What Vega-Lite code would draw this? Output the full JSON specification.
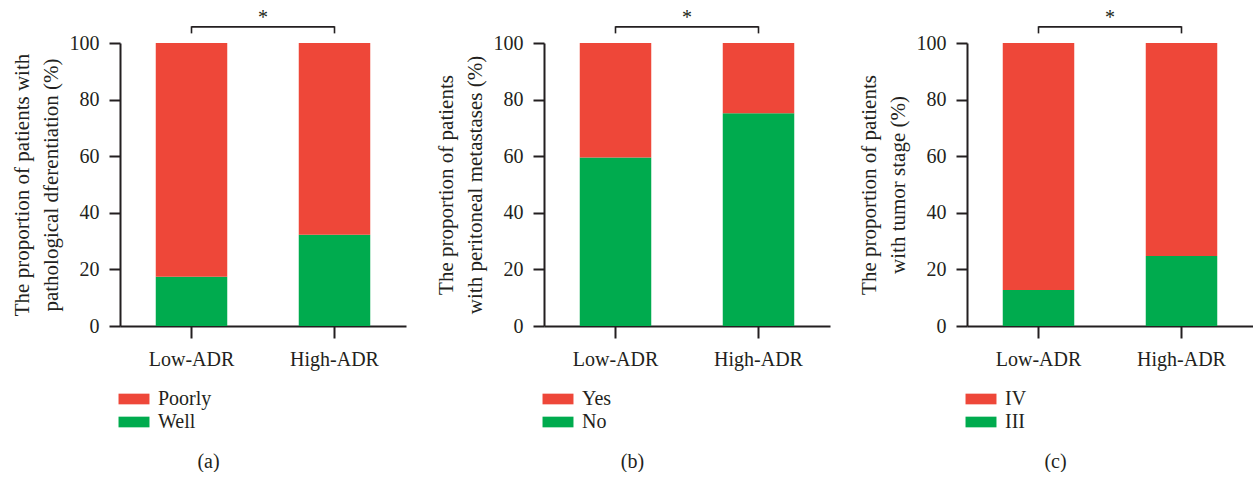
{
  "$schema": "https://vega.github.io/schema/vega-lite/v6.json",
  "autosize": {"type": "pad"},
  "padding": {"left": 10, "top": 7, "right": 0, "bottom": 0},
  "background": "white",
  "config": {
    "view": {"stroke": null},
    "concat": {"spacing": 28}
  },
  "datasets": {
    "a": [
      {"group": "Low-ADR", "category": "Well", "percent": 17.4},
      {"group": "Low-ADR", "category": "Poorly", "percent": 82.6},
      {"group": "High-ADR", "category": "Well", "percent": 32.2},
      {"group": "High-ADR", "category": "Poorly", "percent": 67.8}
    ],
    "b": [
      {"group": "Low-ADR", "category": "No", "percent": 59.5},
      {"group": "Low-ADR", "category": "Yes", "percent": 40.5},
      {"group": "High-ADR", "category": "No", "percent": 75.2},
      {"group": "High-ADR", "category": "Yes", "percent": 24.8}
    ],
    "c": [
      {"group": "Low-ADR", "category": "III", "percent": 12.7},
      {"group": "Low-ADR", "category": "IV", "percent": 87.3},
      {"group": "High-ADR", "category": "III", "percent": 24.7},
      {"group": "High-ADR", "category": "IV", "percent": 75.3}
    ],
    "sig": [
      {"from": "Low-ADR", "to": "High-ADR", "label": "*"}
    ]
  },
  "hconcat": [
    {
      "width": 286, "height": 283,
      "title": {"text": "(a)", "orient": "bottom", "frame": "bounds", "anchor": "middle", "offset": 20, "font": "Liberation Serif", "fontSize": 20, "fontWeight": "normal", "color": "#231f20"},
      "layer": [
        {
          "data": {"name": "a"},
          "mark": {"type": "bar"},
          "encoding": {
            "x": {"field": "group", "type": "nominal", "scale": {"domain": ["Low-ADR", "High-ADR"], "paddingInner": 0.5, "paddingOuter": 0.25}, "axis": {"title": null, "labelAngle": 0, "tickSize": 12, "labelPadding": 11, "domainColor": "#231f20", "domainWidth": 2, "tickColor": "#231f20", "tickWidth": 2, "labelFont": "Liberation Serif", "labelFontSize": 20, "labelColor": "#231f20", "grid": false}},
            "y": {"field": "percent", "type": "quantitative", "stack": "zero", "scale": {"domain": [0, 100], "nice": false}, "axis": {"values": [0, 20, 40, 60, 80, 100], "title": ["The proportion of patients with", "pathological dferentiation (%)"], "tickSize": 11, "labelPadding": 10, "titlePadding": 8, "titleLineHeight": 29, "domainColor": "#231f20", "domainWidth": 2, "tickColor": "#231f20", "tickWidth": 2, "labelFont": "Liberation Serif", "labelFontSize": 20, "labelColor": "#231f20", "titleFont": "Liberation Serif", "titleFontSize": 21, "titleFontWeight": "normal", "titleColor": "#231f20", "grid": false}},
            "color": {"field": "category", "type": "nominal", "scale": {"domain": ["Poorly", "Well"], "range": ["#ee4739", "#00ab4e"]}, "legend": {"title": null, "orient": "none", "legendX": 4, "legendY": 346, "symbolType": "M-2.9,-1H2.9V1H-2.9Z", "symbolSize": 114, "symbolOpacity": 1, "symbolStrokeWidth": 0, "labelFont": "Liberation Serif", "labelFontSize": 20, "labelColor": "#231f20", "rowPadding": 3, "padding": 0, "labelOffset": 14}},
            "order": {"field": "category", "sort": "descending"}
          }
        },
        {
          "data": {"name": "sig"},
          "mark": {"type": "rule", "strokeWidth": 1.6, "color": "#231f20"},
          "encoding": {"x": {"field": "from", "type": "nominal"}, "x2": {"field": "to"}, "y": {"datum": 105.7}}
        },
        {
          "data": {"name": "sig"},
          "mark": {"type": "rule", "strokeWidth": 1.6, "color": "#231f20"},
          "encoding": {"x": {"field": "from", "type": "nominal"}, "y": {"datum": 103.4}, "y2": {"datum": 105.9}}
        },
        {
          "data": {"name": "sig"},
          "mark": {"type": "rule", "strokeWidth": 1.6, "color": "#231f20"},
          "encoding": {"x": {"field": "to", "type": "nominal"}, "y": {"datum": 103.4}, "y2": {"datum": 105.9}}
        },
        {
          "data": {"name": "sig"},
          "mark": {"type": "text", "font": "Liberation Serif", "fontSize": 20, "color": "#231f20", "dx": 71.5, "baseline": "alphabetic"},
          "encoding": {"x": {"field": "from", "type": "nominal"}, "y": {"datum": 106.8}, "text": {"field": "label"}}
        }
      ]
    },
    {
      "width": 286, "height": 283,
      "title": {"text": "(b)", "orient": "bottom", "frame": "bounds", "anchor": "middle", "offset": 20, "font": "Liberation Serif", "fontSize": 20, "fontWeight": "normal", "color": "#231f20"},
      "layer": [
        {
          "data": {"name": "b"},
          "mark": {"type": "bar"},
          "encoding": {
            "x": {"field": "group", "type": "nominal", "scale": {"domain": ["Low-ADR", "High-ADR"], "paddingInner": 0.5, "paddingOuter": 0.25}, "axis": {"title": null, "labelAngle": 0, "tickSize": 12, "labelPadding": 11, "domainColor": "#231f20", "domainWidth": 2, "tickColor": "#231f20", "tickWidth": 2, "labelFont": "Liberation Serif", "labelFontSize": 20, "labelColor": "#231f20", "grid": false}},
            "y": {"field": "percent", "type": "quantitative", "stack": "zero", "scale": {"domain": [0, 100], "nice": false}, "axis": {"values": [0, 20, 40, 60, 80, 100], "title": ["The proportion of patients", "with peritoneal metastases (%)"], "tickSize": 11, "labelPadding": 10, "titlePadding": 8, "titleLineHeight": 29, "domainColor": "#231f20", "domainWidth": 2, "tickColor": "#231f20", "tickWidth": 2, "labelFont": "Liberation Serif", "labelFontSize": 20, "labelColor": "#231f20", "titleFont": "Liberation Serif", "titleFontSize": 21, "titleFontWeight": "normal", "titleColor": "#231f20", "grid": false}},
            "color": {"field": "category", "type": "nominal", "scale": {"domain": ["Yes", "No"], "range": ["#ee4739", "#00ab4e"]}, "legend": {"title": null, "orient": "none", "legendX": 4, "legendY": 346, "symbolType": "M-2.9,-1H2.9V1H-2.9Z", "symbolSize": 114, "symbolOpacity": 1, "symbolStrokeWidth": 0, "labelFont": "Liberation Serif", "labelFontSize": 20, "labelColor": "#231f20", "rowPadding": 3, "padding": 0, "labelOffset": 14}},
            "order": {"field": "category", "sort": "ascending"}
          }
        },
        {
          "data": {"name": "sig"},
          "mark": {"type": "rule", "strokeWidth": 1.6, "color": "#231f20"},
          "encoding": {"x": {"field": "from", "type": "nominal"}, "x2": {"field": "to"}, "y": {"datum": 105.7}}
        },
        {
          "data": {"name": "sig"},
          "mark": {"type": "rule", "strokeWidth": 1.6, "color": "#231f20"},
          "encoding": {"x": {"field": "from", "type": "nominal"}, "y": {"datum": 103.4}, "y2": {"datum": 105.9}}
        },
        {
          "data": {"name": "sig"},
          "mark": {"type": "rule", "strokeWidth": 1.6, "color": "#231f20"},
          "encoding": {"x": {"field": "to", "type": "nominal"}, "y": {"datum": 103.4}, "y2": {"datum": 105.9}}
        },
        {
          "data": {"name": "sig"},
          "mark": {"type": "text", "font": "Liberation Serif", "fontSize": 20, "color": "#231f20", "dx": 71.5, "baseline": "alphabetic"},
          "encoding": {"x": {"field": "from", "type": "nominal"}, "y": {"datum": 106.8}, "text": {"field": "label"}}
        }
      ]
    },
    {
      "width": 286, "height": 283,
      "title": {"text": "(c)", "orient": "bottom", "frame": "bounds", "anchor": "middle", "offset": 20, "font": "Liberation Serif", "fontSize": 20, "fontWeight": "normal", "color": "#231f20"},
      "layer": [
        {
          "data": {"name": "c"},
          "mark": {"type": "bar"},
          "encoding": {
            "x": {"field": "group", "type": "nominal", "scale": {"domain": ["Low-ADR", "High-ADR"], "paddingInner": 0.5, "paddingOuter": 0.25}, "axis": {"title": null, "labelAngle": 0, "tickSize": 12, "labelPadding": 11, "domainColor": "#231f20", "domainWidth": 2, "tickColor": "#231f20", "tickWidth": 2, "labelFont": "Liberation Serif", "labelFontSize": 20, "labelColor": "#231f20", "grid": false}},
            "y": {"field": "percent", "type": "quantitative", "stack": "zero", "scale": {"domain": [0, 100], "nice": false}, "axis": {"values": [0, 20, 40, 60, 80, 100], "title": ["The proportion of patients", "with tumor stage (%)"], "tickSize": 11, "labelPadding": 10, "titlePadding": 8, "titleLineHeight": 29, "domainColor": "#231f20", "domainWidth": 2, "tickColor": "#231f20", "tickWidth": 2, "labelFont": "Liberation Serif", "labelFontSize": 20, "labelColor": "#231f20", "titleFont": "Liberation Serif", "titleFontSize": 21, "titleFontWeight": "normal", "titleColor": "#231f20", "grid": false}},
            "color": {"field": "category", "type": "nominal", "scale": {"domain": ["IV", "III"], "range": ["#ee4739", "#00ab4e"]}, "legend": {"title": null, "orient": "none", "legendX": 4, "legendY": 346, "symbolType": "M-2.9,-1H2.9V1H-2.9Z", "symbolSize": 114, "symbolOpacity": 1, "symbolStrokeWidth": 0, "labelFont": "Liberation Serif", "labelFontSize": 20, "labelColor": "#231f20", "rowPadding": 3, "padding": 0, "labelOffset": 14}},
            "order": {"field": "category", "sort": "ascending"}
          }
        },
        {
          "data": {"name": "sig"},
          "mark": {"type": "rule", "strokeWidth": 1.6, "color": "#231f20"},
          "encoding": {"x": {"field": "from", "type": "nominal"}, "x2": {"field": "to"}, "y": {"datum": 105.7}}
        },
        {
          "data": {"name": "sig"},
          "mark": {"type": "rule", "strokeWidth": 1.6, "color": "#231f20"},
          "encoding": {"x": {"field": "from", "type": "nominal"}, "y": {"datum": 103.4}, "y2": {"datum": 105.9}}
        },
        {
          "data": {"name": "sig"},
          "mark": {"type": "rule", "strokeWidth": 1.6, "color": "#231f20"},
          "encoding": {"x": {"field": "to", "type": "nominal"}, "y": {"datum": 103.4}, "y2": {"datum": 105.9}}
        },
        {
          "data": {"name": "sig"},
          "mark": {"type": "text", "font": "Liberation Serif", "fontSize": 20, "color": "#231f20", "dx": 71.5, "baseline": "alphabetic"},
          "encoding": {"x": {"field": "from", "type": "nominal"}, "y": {"datum": 106.8}, "text": {"field": "label"}}
        }
      ]
    }
  ],
  "resolve": {"scale": {"color": "independent"}}
}
